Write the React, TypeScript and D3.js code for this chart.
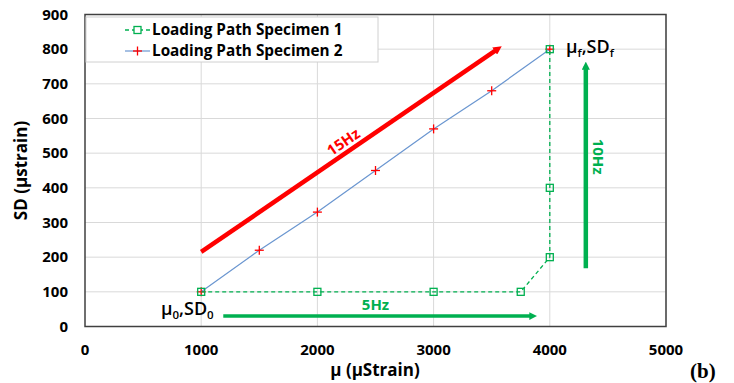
import { scaleLinear, line } from 'd3'

const W = 734
const H = 383

// Loading Path Specimen 1 (green dashed, square markers)
const s1X = [1000, 2000, 3000, 3750, 4000, 4000, 4000]
const s1Y = [100, 100, 100, 100, 200, 400, 800]

// Loading Path Specimen 2 (blue line, red plus markers)
const s2X = [1000, 1500, 2000, 2500, 3000, 3500, 4000]
const s2Y = [100, 220, 330, 450, 570, 680, 800]

const xTicks = [0, 1000, 2000, 3000, 4000, 5000]
const yTicks = [0, 100, 200, 300, 400, 500, 600, 700, 800, 900]

// frequency arrows, [start, end] in data units
const arrow15 = [[1000, 215], [3550, 800]]
const arrow5 = [[1190, 30], [3850, 30]]
const arrow10 = [[4310, 168], [4310, 750]]

const GREEN = '#00B050'
const RED = '#FF0000'
const BLUE = '#6A96D0'
const FONT = '"Open Sans", sans-serif'

export default function App() {
  const x = scaleLinear().domain([0, 5000]).range([85, 666])
  const y = scaleLinear().domain([0, 900]).range([326.5, 14.5])

  const s1 = s1X.map((v, i) => [v, s1Y[i]] as [number, number])
  const s2 = s2X.map((v, i) => [v, s2Y[i]] as [number, number])
  const path = line<[number, number]>().x((d) => x(d[0])).y((d) => y(d[1]))

  const a15 = arrow15.map(([a, b]) => [x(a), y(b)])
  const angle15 = (Math.atan2(a15[1][1] - a15[0][1], a15[1][0] - a15[0][0]) * 180) / Math.PI
  const mid15 = [x(2250), y(520)]

  return (
    <svg width={W} height={H} style={{ position: 'absolute', left: 0, top: 0, background: '#fff' }}>
      <defs>
        <marker id="headR" viewBox="0 0 10 10" refX="4" refY="5" markerWidth="1.9" markerHeight="1.9" orient="auto">
          <path d="M0,0 L10,5 L0,10 z" fill={RED} />
        </marker>
        <marker id="headG" viewBox="0 0 10 10" refX="4" refY="5" markerWidth="2.2" markerHeight="2.2" orient="auto">
          <path d="M0,0 L10,5 L0,10 z" fill={GREEN} />
        </marker>
        <marker id="headG2" viewBox="0 0 10 10" refX="4" refY="5" markerWidth="1.8" markerHeight="1.8" orient="auto">
          <path d="M0,0 L10,5 L0,10 z" fill={GREEN} />
        </marker>
      </defs>

      {/* grid */}
      {yTicks.slice(1).map((t) => (
        <line key={`gy${t}`} x1={x(0)} x2={x(5000)} y1={y(t)} y2={y(t)} stroke="#d9d9d9" strokeWidth={1} />
      ))}
      {xTicks.slice(1).map((t) => (
        <line key={`gx${t}`} x1={x(t)} x2={x(t)} y1={y(0)} y2={y(900)} stroke="#d9d9d9" strokeWidth={1} />
      ))}

      {/* frame */}
      <rect x={x(0)} y={y(900)} width={x(5000) - x(0)} height={y(0) - y(900)} fill="none" stroke="#404040" strokeWidth={1.5} />

      {/* tick labels */}
      {yTicks.map((t) => (
        <text key={`ty${t}`} x={x(0) - 17} y={y(t)} dy="0.35em" textAnchor="end" fontFamily={FONT} fontWeight={700} fontSize={15}>
          {t}
        </text>
      ))}
      {xTicks.map((t) => (
        <text key={`tx${t}`} x={x(t)} y={y(0) + 28} textAnchor="middle" fontFamily={FONT} fontWeight={700} fontSize={15}>
          {t}
        </text>
      ))}

      {/* axis titles */}
      <text x={375} y={376} textAnchor="middle" fontFamily={FONT} fontWeight={700} fontSize={17}>
        μ (μStrain)
      </text>
      <text transform={`translate(27,${y(450)}) rotate(-90)`} textAnchor="middle" fontFamily={FONT} fontWeight={700} fontSize={17}>
        SD (μstrain)
      </text>

      {/* arrows */}
      <line x1={a15[0][0]} y1={a15[0][1]} x2={a15[1][0]} y2={a15[1][1]} stroke={RED} strokeWidth={4.5} markerEnd="url(#headR)" />
      <text transform={`translate(${mid15[0]},${mid15[1]}) rotate(${angle15})`} textAnchor="middle" fill={RED} fontFamily={FONT} fontWeight={700} fontSize={15}>
        15Hz
      </text>

      <line x1={x(arrow5[0][0])} y1={y(arrow5[0][1])} x2={x(arrow5[1][0])} y2={y(arrow5[1][1])} stroke={GREEN} strokeWidth={3.5} markerEnd="url(#headG)" />
      <text x={x(2500)} y={y(30) - 6} textAnchor="middle" fill={GREEN} fontFamily={FONT} fontWeight={700} fontSize={15}>
        5Hz
      </text>

      <line x1={x(arrow10[0][0])} y1={y(arrow10[0][1])} x2={x(arrow10[1][0])} y2={y(arrow10[1][1])} stroke={GREEN} strokeWidth={4.5} markerEnd="url(#headG2)" />
      <text transform={`translate(${x(4310) + 7},${y(490)}) rotate(90)`} textAnchor="middle" fill={GREEN} fontFamily={FONT} fontWeight={700} fontSize={15}>
        10Hz
      </text>

      {/* specimen 2 */}
      <path d={path(s2) ?? ''} fill="none" stroke={BLUE} strokeWidth={1.2} />
      {s2.map(([a, b]) => (
        <g key={`p${a}`} stroke={RED} strokeWidth={1.3}>
          <line x1={x(a) - 4.5} x2={x(a) + 4.5} y1={y(b)} y2={y(b)} />
          <line x1={x(a)} x2={x(a)} y1={y(b) - 4.5} y2={y(b) + 4.5} />
        </g>
      ))}

      {/* specimen 1 */}
      <path d={path(s1) ?? ''} fill="none" stroke={GREEN} strokeWidth={1.3} strokeDasharray="4,3" />
      {s1.map(([a, b], i) => (
        <rect key={`s${i}`} x={x(a) - 3.5} y={y(b) - 3.5} width={7} height={7} fill="none" stroke={GREEN} strokeWidth={1.3} />
      ))}

      {/* point labels */}
      <text x={161} y={315} fontFamily={FONT} fontWeight={600} fontSize={18}>
        μ<tspan fontSize={11.5} dy={4}>0</tspan>
        <tspan dy={-4}>,SD</tspan>
        <tspan fontSize={11.5} dy={4}>0</tspan>
      </text>
      <text x={566} y={53} fontFamily={FONT} fontWeight={600} fontSize={18}>
        μ<tspan fontSize={11.5} dy={4}>f</tspan>
        <tspan dy={-4}>,SD</tspan>
        <tspan fontSize={11.5} dy={4}>f</tspan>
      </text>

      {/* legend */}
      <rect x={86} y={17} width={292} height={45} fill="#fff" stroke="#d0d0d0" strokeWidth={1} />
      <line x1={125} x2={150} y1={30} y2={30} stroke={GREEN} strokeWidth={1.3} strokeDasharray="4,3" />
      <rect x={134} y={26.5} width={7} height={7} fill="#fff" stroke={GREEN} strokeWidth={1.3} />
      <text x={152} y={30} dy="0.35em" fontFamily={FONT} fontWeight={700} fontSize={15.3}>
        Loading Path Specimen 1
      </text>
      <line x1={125} x2={150} y1={51} y2={51} stroke={BLUE} strokeWidth={1.2} />
      <line x1={133} x2={142} y1={51} y2={51} stroke={RED} strokeWidth={1.3} />
      <line x1={137.5} x2={137.5} y1={46.5} y2={55.5} stroke={RED} strokeWidth={1.3} />
      <text x={152} y={51} dy="0.35em" fontFamily={FONT} fontWeight={700} fontSize={15.3}>
        Loading Path Specimen 2
      </text>

      <text x={690} y={378} fontFamily='"Liberation Serif", serif' fontWeight={700} fontSize={21}>
        (b)
      </text>
    </svg>
  )
}
